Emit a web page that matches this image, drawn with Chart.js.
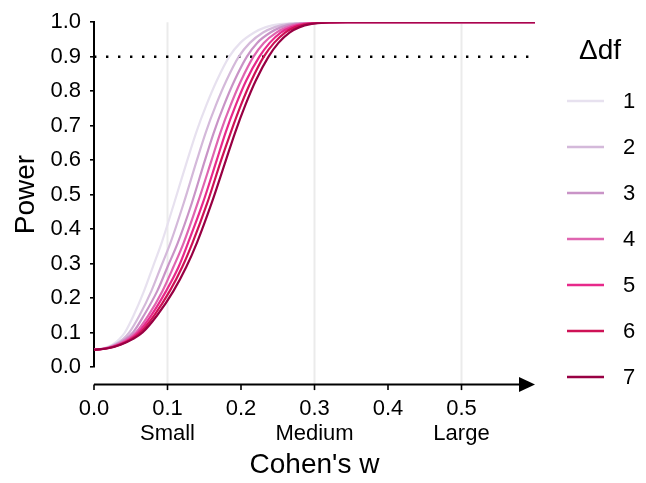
<!DOCTYPE html>
<html>
<head>
<meta charset="utf-8">
<script src="https://cdn.jsdelivr.net/npm/chart.js@4"></script>
<style>
  html, body { margin: 0; padding: 0; background: #fff; }
  canvas { display: block; }
</style>
</head>
<body>
<canvas id="chart" width="646" height="483"></canvas>
<script>
// ===== Data =====

// Power levels at which each curve's w was read
const powerLevels = [0.05, 0.055, 0.065, 0.08, 0.1, 0.15, 0.22, 0.29, 0.36, 0.475, 0.6,
                     0.68, 0.76, 0.83, 0.9, 0.94, 0.97, 0.985, 0.995, 0.999, 1.0, 1.0];

// Cohen's w reached by each delta-df curve at those power levels
const wDf1 = [0, 0.014, 0.025, 0.034, 0.042, 0.054, 0.068, 0.080, 0.092, 0.109, 0.127,
              0.139, 0.153, 0.167, 0.184, 0.199, 0.218, 0.233, 0.255, 0.282, 0.330, 0.6];
const wDf2 = [0, 0.016, 0.028, 0.039, 0.048, 0.062, 0.078, 0.091, 0.104, 0.122, 0.140,
              0.152, 0.166, 0.180, 0.197, 0.212, 0.230, 0.245, 0.265, 0.290, 0.334, 0.6];
const wDf3 = [0, 0.017, 0.030, 0.042, 0.053, 0.068, 0.086, 0.100, 0.114, 0.133, 0.151,
              0.163, 0.177, 0.191, 0.208, 0.222, 0.240, 0.254, 0.273, 0.296, 0.337, 0.6];
const wDf4 = [0, 0.018, 0.032, 0.045, 0.057, 0.074, 0.093, 0.108, 0.122, 0.141, 0.160,
              0.172, 0.186, 0.200, 0.217, 0.231, 0.248, 0.262, 0.280, 0.302, 0.339, 0.6];
const wDf5 = [0, 0.019, 0.034, 0.048, 0.060, 0.078, 0.098, 0.115, 0.128, 0.148, 0.167,
              0.179, 0.193, 0.207, 0.225, 0.239, 0.254, 0.268, 0.286, 0.306, 0.341, 0.6];
const wDf6 = [0, 0.020, 0.036, 0.050, 0.063, 0.082, 0.103, 0.120, 0.134, 0.154, 0.173,
              0.186, 0.200, 0.214, 0.231, 0.245, 0.260, 0.273, 0.291, 0.310, 0.343, 0.6];
const wDf7 = [0, 0.021, 0.037, 0.052, 0.066, 0.086, 0.108, 0.1255, 0.140, 0.160, 0.1795,
              0.192, 0.206, 0.220, 0.2375, 0.251, 0.266, 0.279, 0.296, 0.314, 0.345, 0.6];

const dfLabels = ['1', '2', '3', '4', '5', '6', '7'];
const dfColors = ['#e7e1ef', '#d4b9da', '#c994c7', '#df65b0', '#e7298a', '#ce1256', '#980043'];

const targetPower = 0.9;
const xTicks = [0, 0.1, 0.2, 0.3, 0.4, 0.5];
const yTicks = [0, 0.1, 0.2, 0.3, 0.4, 0.5, 0.6, 0.7, 0.8, 0.9, 1.0];
const effectMarks = [0.1, 0.3, 0.5];
const effectLabels = ['Small', 'Medium', 'Large'];

const FONT = "'Liberation Sans', Arial, sans-serif";

// ===== Build datasets =====
const wSeries = [wDf1, wDf2, wDf3, wDf4, wDf5, wDf6, wDf7];

const datasets = wSeries.map((ws, i) => ({
    label: dfLabels[i],
    data: ws.map((w, k) => ({ x: w, y: powerLevels[k] })),
    borderColor: dfColors[i],
    borderWidth: 2.2,
    pointRadius: 0,
    cubicInterpolationMode: 'monotone',
    fill: false,
    order: wSeries.length - i
}));

// dotted 90% power reference
datasets.push({
    label: 'target',
    data: [{ x: 0, y: targetPower }, { x: 0.6, y: targetPower }],
    borderColor: '#000',
    borderWidth: 2.4,
    borderDash: [2.4, 9.6],
    pointRadius: 0,
    order: 20
});

// ===== Extras: gridlines, x axis with arrow, legend =====
const extrasPlugin = {
    id: 'extras',
    beforeDatasetsDraw(chart) {
        const ctx = chart.ctx;
        const x = chart.scales.x;
        const top = chart.chartArea.top;
        const axisY = chart.chartArea.bottom + 17.6;
        ctx.save();
        ctx.strokeStyle = '#ebebeb';
        ctx.lineWidth = 2;
        effectMarks.forEach(v => {
            const px = x.getPixelForValue(v);
            ctx.beginPath();
            ctx.moveTo(px, top);
            ctx.lineTo(px, axisY);
            ctx.stroke();
        });
        ctx.restore();
    },
    afterDraw(chart) {
        const ctx = chart.ctx;
        const x = chart.scales.x;
        const area = chart.chartArea;
        const axisY = area.bottom + 17.6;
        ctx.save();

        // x axis line + arrow
        ctx.strokeStyle = '#000';
        ctx.fillStyle = '#000';
        ctx.lineWidth = 2;
        ctx.beginPath();
        ctx.moveTo(area.left, axisY);
        ctx.lineTo(area.right - 10, axisY);
        ctx.stroke();
        ctx.beginPath();
        ctx.moveTo(area.right, axisY);
        ctx.lineTo(area.right - 16, axisY - 7.5);
        ctx.lineTo(area.right - 16, axisY + 7.5);
        ctx.closePath();
        ctx.fill();

        // x tick marks
        ctx.lineWidth = 1.6;
        xTicks.forEach(v => {
            const px = x.getPixelForValue(v);
            ctx.beginPath();
            ctx.moveTo(px, axisY);
            ctx.lineTo(px, axisY + 5.5);
            ctx.stroke();
        });

        // legend
        ctx.fillStyle = '#000';
        ctx.textBaseline = 'middle';
        ctx.textAlign = 'center';
        ctx.font = '28px ' + FONT;
        ctx.fillText('\u0394df', 600, 51);
        ctx.font = '22px ' + FONT;
        ctx.textAlign = 'left';
        dfLabels.forEach((lab, i) => {
            const y = 101 + 46 * i;
            ctx.strokeStyle = dfColors[i];
            ctx.lineWidth = 2.6;
            ctx.beginPath();
            ctx.moveTo(567, y);
            ctx.lineTo(604, y);
            ctx.stroke();
            ctx.fillText(lab, 623, y + 1);
        });
        ctx.restore();
    }
};

new Chart(document.getElementById('chart'), {
    type: 'line',
    data: { datasets: datasets },
    options: {
        responsive: false,
        animation: false,
        devicePixelRatio: 1,
        layout: { padding: { top: 17, right: 111, left: 0, bottom: 0 } },
        plugins: {
            legend: { display: false },
            tooltip: { enabled: false }
        },
        scales: {
            x: {
                type: 'linear',
                min: 0,
                max: 0.6,
                afterFit: s => { s.height = 116; },
                afterBuildTicks: s => { s.ticks = xTicks.map(v => ({ value: v })); },
                grid: { display: false, drawTicks: false },
                border: { display: false },
                ticks: {
                    padding: 29,
                    color: '#000',
                    maxRotation: 0,
                    autoSkip: false,
                    font: { family: FONT, size: 22, lineHeight: 1.14 },
                    callback: v => {
                        const k = effectMarks.findIndex(m => Math.abs(m - v) < 1e-9);
                        const txt = v.toFixed(1);
                        return k >= 0 ? [txt, effectLabels[k]] : txt;
                    }
                },
                title: {
                    display: true,
                    text: "Cohen's w",
                    color: '#000',
                    font: { family: FONT, size: 28 },
                    padding: { top: 0, bottom: 1 }
                }
            },
            y: {
                min: 0,
                max: 1,
                afterFit: s => { s.width = 94; },
                afterBuildTicks: s => { s.ticks = yTicks.map(v => ({ value: v })); },
                grid: { drawOnChartArea: false, drawTicks: true, tickLength: 4, color: '#000', lineWidth: 1.6 },
                border: { display: true, color: '#000', width: 2 },
                ticks: {
                    padding: 9,
                    color: '#000',
                    font: { family: FONT, size: 22 },
                    callback: v => v.toFixed(1)
                },
                title: {
                    display: true,
                    text: 'Power',
                    color: '#000',
                    font: { family: FONT, size: 28 },
                    padding: { top: 9, bottom: 0 }
                }
            }
        }
    },
    plugins: [extrasPlugin]
});
</script>
</body>
</html>
